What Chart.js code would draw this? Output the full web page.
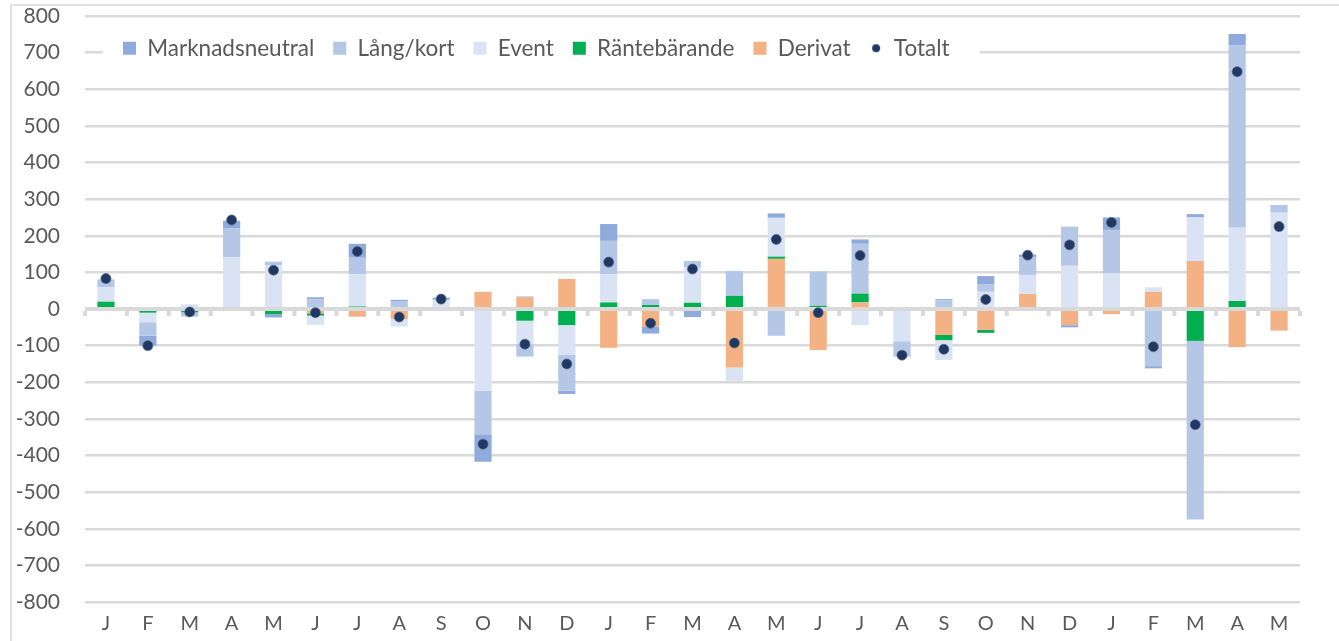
<!DOCTYPE html>
<html lang="sv">
<head>
    <meta charset="UTF-8">
    <title>Avkastning per strategi</title>
    <script src="https://cdn.jsdelivr.net/npm/chart.js@4.4.1/dist/chart.umd.min.js"></script>
    <style>
        html, body { margin: 0; padding: 0; background: #fff; }
        #wrap { position: relative; width: 1339px; height: 641px; }
    </style>
</head>
<body>
<div id="wrap"><canvas id="chart"></canvas></div>
<script>
    // months, oldest first
    const months = ['J','F','M','A','M','J','J','A','S','O','N','D',
                    'J','F','M','A','M','J','J','A','S','O','N','D',
                    'J','F','M','A','M'];

    const derivat = [0, 0, -4, 0, 0, -12, -21, -27, 3, 47, 32, 82,
                     -106, -48, 0, -160, 137, -112, 18, 0, -71, -57, 41, -44,
                     -14, 47, 131, -104, -59];
    const rantebarande = [20, -10, -5, 3, -14, -6, 7, 5, 0, 0, -32, -44,
                          18, 11, 17, 36, 6, 9, 24, 4, -14, -8, 0, 4,
                          4, 0, -87, 22, 5];
    const eventData = [39, -26, 13, 138, 120, -25, 88, -21, 22, -223, -64, -81,
                       77, 0, 96, -36, 106, 0, -44, -88, -54, 47, 52, 114,
                       93, 12, 119, 200, 258];
    const langKort = [22, -37, -12, 80, 9, 26, 45, 15, -4, -119, -34, -98,
                      91, 16, 18, 68, -73, 93, 136, -42, 24, 21, 48, 107,
                      119, -156, -488, 498, 21];
    const marknadsneutral = [0, -27, 0, 20, -9, 6, 38, 5, 6, -75, 2, -9,
                             46, -19, -22, 0, 12, 0, 12, 0, 3, 22, 8, -6,
                             34, -6, 9, 31, 0];
    const totalt = [83, -100, -8, 243, 106, -10, 157, -22, 27, -369, -96, -150,
                    128, -39, 109, -93, 190, -10, 146, -126, -110, 26, 147, 175,
                    236, -103, -316, 648, 225];

    const legendOrder = ['Marknadsneutral', 'Lång/kort', 'Event', 'Räntebärande', 'Derivat', 'Totalt'];

    Chart.defaults.font.family = 'Lato, "Open Sans", sans-serif';
    Chart.defaults.font.size = 21;
    Chart.defaults.color = '#595959';

    // small dot for the legend entry of Totalt
    const dot = document.createElement('canvas');
    dot.width = 12; dot.height = 12;
    const dctx = dot.getContext('2d');
    dctx.fillStyle = '#203864';
    dctx.beginPath();
    dctx.arc(6, 6, 4, 0, Math.PI * 2);
    dctx.fill();

    function bar(label, data, color) {
        return {
            type: 'bar',
            label: label,
            data: data,
            backgroundColor: color,
            borderWidth: 0,
            pointStyle: 'rect',
            categoryPercentage: 1,
            barPercentage: 0.41
        };
    }

    // frame, legend inside the plot (with white background) and the zero axis
    const decor = {
        id: 'decor',
        afterInit(chart) {
            // legend takes no space; it is placed over the plot area
            const lg = chart.legend;
            const fit = lg.fit.bind(lg);
            lg.fit = function () { fit(); this.height = 0; };
        },
        afterLayout(chart) {
            const lg = chart.legend;
            lg.left += 104; lg.right += 104;
            lg.top = 18; lg.height = 60; lg.bottom = 78;
        },
        beforeDraw(chart) {
            const ctx = chart.ctx;
            ctx.save();
            ctx.strokeStyle = '#d9d9d9';
            ctx.lineWidth = 1.5;
            ctx.beginPath();
            ctx.moveTo(11, chart.height);
            ctx.lineTo(11, 5);
            ctx.lineTo(chart.width, 5);
            ctx.stroke();
            ctx.restore();
        },
        beforeDatasetsDraw(chart) {
            const lg = chart.legend;
            const hb = lg.legendHitBoxes;
            if (!hb || !hb.length) return;
            const last = hb[hb.length - 1];
            const ctx = chart.ctx;
            ctx.save();
            ctx.fillStyle = '#fff';
            ctx.fillRect(hb[0].left - 20, hb[0].top - 6, last.left + last.width - hb[0].left + 50, hb[0].height + 12);
            ctx.restore();
            lg.draw();
        },
        beforeDatasetDraw(chart, args) {
            if (args.meta.type !== 'line') return;
            const ctx = chart.ctx;
            const area = chart.chartArea;
            const y0 = chart.scales.y.getPixelForValue(0);
            const n = months.length;
            const step = (area.right - area.left) / n;
            ctx.save();
            ctx.fillStyle = '#d9d9d9';
            ctx.fillRect(area.left, y0 - 2, area.right - area.left, 4);
            for (let i = 0; i <= n; i++) {
                ctx.fillRect(area.left + i * step - 2, y0 + 2, 4, 5);
            }
            ctx.restore();
        }
    };

    new Chart(document.getElementById('chart'), {
        data: {
            labels: months,
            datasets: [
                bar('Derivat', derivat, '#f4b183'),
                bar('Räntebärande', rantebarande, '#00b050'),
                bar('Event', eventData, '#dae3f3'),
                bar('Lång/kort', langKort, '#b4c7e7'),
                bar('Marknadsneutral', marknadsneutral, '#8faadc'),
                {
                    type: 'line',
                    label: 'Totalt',
                    data: totalt,
                    stack: 'totalt',
                    order: -1,
                    showLine: false,
                    pointRadius: 5,
                    pointHoverRadius: 5,
                    pointBackgroundColor: '#203864',
                    pointBorderColor: 'rgba(90,100,120,0.7)',
                    pointBorderWidth: 1,
                    backgroundColor: '#203864',
                    borderColor: '#203864'
                }
            ]
        },
        options: {
            responsive: true,
            maintainAspectRatio: false,
            animation: false,
            layout: { padding: { top: 16, right: 39, bottom: 4, left: 0 } },
            plugins: {
                tooltip: { enabled: false },
                legend: {
                    position: 'top',
                    align: 'start',
                    labels: {
                        usePointStyle: true,
                        boxWidth: 13,
                        boxHeight: 13,
                        padding: 19,
                        color: '#595959',
                        font: { size: 22.5 },
                        sort: (a, b) => legendOrder.indexOf(a.text) - legendOrder.indexOf(b.text),
                        generateLabels(chart) {
                            const items = Chart.defaults.plugins.legend.labels.generateLabels(chart);
                            items.forEach(it => {
                                const ds = chart.data.datasets[it.datasetIndex];
                                it.lineWidth = 0;
                                it.strokeStyle = 'rgba(0,0,0,0)';
                                it.pointStyle = ds.type === 'line' ? dot : 'rect';
                            });
                            return items;
                        }
                    }
                }
            },
            scales: {
                x: {
                    stacked: true,
                    afterFit(scale) { scale.height = 35; },
                    grid: { display: false, drawTicks: false },
                    border: { display: false },
                    ticks: { padding: 10, color: '#595959', font: { size: 20 } }
                },
                y: {
                    stacked: true,
                    min: -800,
                    max: 800,
                    afterFit(scale) {
                        scale.width = 85;
                        scale.paddingTop = 0;
                        scale.paddingBottom = 0;
                    },
                    border: { display: false },
                    grid: {
                        drawTicks: false,
                        color: ctx => (ctx.tick.value % 100 === 0 ? '#d9d9d9' : '#f2f2f2'),
                        lineWidth: ctx => (ctx.tick.value % 100 === 0 ? 2.5 : 2)
                    },
                    ticks: {
                        stepSize: 50,
                        padding: 25,
                        color: '#595959',
                        font: { size: 21 },
                        callback: v => (v % 100 === 0 ? v : '')
                    }
                }
            }
        },
        plugins: [decor]
    });
</script>
</body>
</html>
